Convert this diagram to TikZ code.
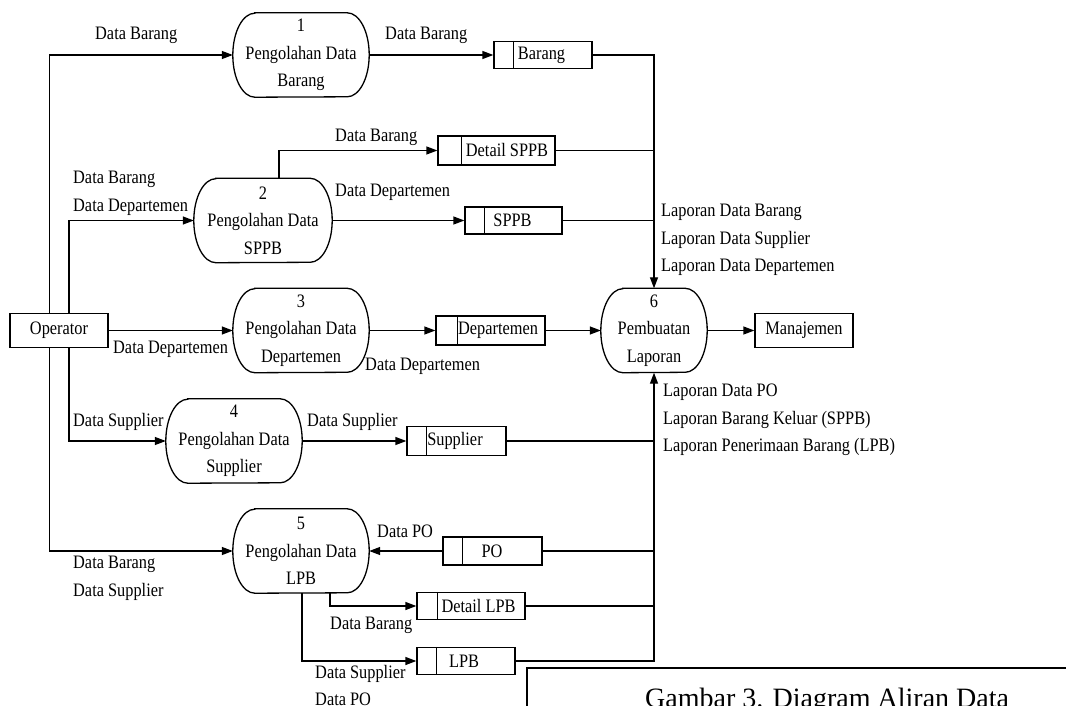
\documentclass[tikz,border=0pt]{standalone}
\usepackage{fontspec}
\setmainfont{Liberation Serif}[FakeStretch=0.86]
\newfontfamily\capfont{Liberation Serif}
\usetikzlibrary{arrows.meta}

% outline of a process bubble: flat top and bottom, elliptic ends
\newcommand\procframe[1]{%
  \draw[line] ([xshift=22pt]#1.north west) -- ([xshift=-22pt]#1.north east)
    arc[start angle=90, end angle=-90, x radius=22pt, y radius=42pt]
    -- ([xshift=22pt]#1.south west)
    arc[start angle=270, end angle=90, x radius=22pt, y radius=42pt] -- cycle;}
% left cell of a data store
\newcommand\storecell[2]{%
  \draw[line] ([xshift=#2pt]#1.north west) -- ([xshift=#2pt]#1.south west);}
% store name, nudged sideways by half of the given space
\newcommand\storetxt[2]{\hspace*{#1pt}#2}

\begin{document}
\begin{tikzpicture}[x=1pt, y=-1pt,
  line/.style={line width=1.3pt},
  flow/.style={line, -{Triangle[length=11pt, width=8pt]}},
  txt/.style={font=\fontsize{19}{27.5}\selectfont},
  proc/.style={txt, minimum width=136pt, minimum height=84pt, inner sep=0pt, align=center},
  ent/.style={txt, draw, line, minimum width=98pt, minimum height=34pt, inner sep=0pt},
  store/.style={txt, draw, line, minimum height=28pt, inner sep=0pt},
  lbl/.style={txt, inner sep=0pt, anchor=west, align=left}]

\useasboundingbox (0,0) rectangle (1066,706);
\clip (0,0) rectangle (1066,706);

% external entities
\node[ent] (op)  at (59,330.5)  {Operator};
\node[ent] (man) at (804,330.5) {Manajemen};

% processes
\node[proc] (p1) at (301,55)    {1\\Pengolahan Data\\Barang};
\node[proc, minimum width=138pt] (p2) at (263,220.5) {2\\Pengolahan Data\\SPPB};
\node[proc] (p3) at (301,330.5) {3\\Pengolahan Data\\Departemen};
\node[proc] (p4) at (234,441)   {4\\Pengolahan Data\\Supplier};
\node[proc] (p5) at (301,551)   {5\\Pengolahan Data\\LPB};
\node[proc, minimum width=106pt] (p6) at (654,330.5) {6\\Pembuatan\\Laporan};
\foreach \p in {p1,p2,p3,p4,p5,p6} {\procframe{\p}}

% data stores
\node[store, minimum width=98pt, minimum height=27pt]  (bar)   at (543,55)      {\storetxt{-3}{Barang}};
\node[store, minimum width=117pt, minimum height=29pt] (dsppb) at (496.5,150.5) {\storetxt{21}{Detail SPPB}};
\node[store, minimum width=97pt, minimum height=27pt]  (sppb)  at (513.5,220.5) {\storetxt{-2}{SPPB}};
\node[store, minimum width=109pt, minimum height=29pt] (dep)   at (490.5,330.5) {\storetxt{15}{Departemen}};
\node[store, minimum width=99pt, minimum height=29pt]  (sup)   at (456.5,441)   {\storetxt{-3}{Supplier}};
\node[store, minimum width=99pt, minimum height=28pt]  (po)    at (492.5,551)   {\storetxt{-1}{PO}};
\node[store, minimum width=108pt, minimum height=27pt] (dlpb)  at (471,606)     {\storetxt{15}{Detail LPB}};
\node[store, minimum width=98pt, minimum height=27pt]  (lpb)   at (466,661)     {\storetxt{-4}{LPB}};
\storecell{bar}{20}
\storecell{dsppb}{24}
\storecell{sppb}{20}
\storecell{dep}{22}
\storecell{sup}{20}
\storecell{po}{20}
\storecell{dlpb}{21}
\storecell{lpb}{20}

% operator inputs
\draw[flow] ([xshift=-9.5pt]op.north) |- (p1);
\draw[flow] ([xshift=10pt]op.north) |- (p2);
\draw[flow] (op.east) -- (p3.west);
\draw[flow] ([xshift=10pt]op.south) |- (p4);
\draw[flow] ([xshift=-9.5pt]op.south) |- (p5);

% processes into stores
\draw[flow] (p1) -- (bar);
\draw[flow] ([xshift=16pt]p2.north) |- (dsppb);
\draw[flow] (p2) -- (sppb);
\draw[flow] (p3) -- (dep);
\draw[flow] (p4) -- (sup);
\draw[flow] (po) -- (p5);
\draw[flow] ([xshift=29pt]p5.south) |- (dlpb);
\draw[flow] ([xshift=1pt]p5.south) |- (lpb);

% stores into the report process
\draw[flow] (bar) -| (p6);
\draw[line] (dsppb.east) -- (dsppb.east -| p6.north);
\draw[line] (sppb.east) -- (sppb.east -| p6.north);
\draw[flow] (dep) -- (p6);
\draw[line] (sup.east) -- (sup.east -| p6.south);
\draw[line] (po.east) -- (po.east -| p6.south);
\draw[line] (dlpb.east) -- (dlpb.east -| p6.south);
\draw[flow] (lpb) -| (p6);
\draw[flow] (p6) -- (man);

% flow labels
\node[lbl] at (95,35)    {Data Barang};
\node[lbl] at (385,35)   {Data Barang};
\node[lbl] at (335,137)  {Data Barang};
\node[lbl] at (73,193.5) {Data Barang\\Data Departemen};
\node[lbl] at (335,192)  {Data Departemen};
\node[lbl] at (661,240)  {Laporan Data Barang\\Laporan Data Supplier\\Laporan Data Departemen};
\node[lbl] at (113,349)  {Data Departemen};
\node[lbl] at (365,366)  {Data Departemen};
\node[lbl] at (73,422)   {Data Supplier};
\node[lbl] at (307,422)  {Data Supplier};
\node[lbl] at (663,420)  {Laporan Data PO\\Laporan Barang Keluar (SPPB)\\Laporan Penerimaan Barang (LPB)};
\node[lbl] at (377,531)  {Data PO};
\node[lbl] at (73,578.5) {Data Barang\\Data Supplier};
\node[lbl] at (330,625)  {Data Barang};
\node[lbl] at (315,685.5) {Data Supplier\\Data PO};

% figure caption
\draw[line width=2pt] (527,730) -- (527,668) -- (1080,668);
\node[anchor=base west, inner sep=0pt, font=\capfont\fontsize{28}{32}\selectfont] (cap) at (645,707) {Gambar 3. Diagram Aliran Data};
\end{tikzpicture}
\end{document}
